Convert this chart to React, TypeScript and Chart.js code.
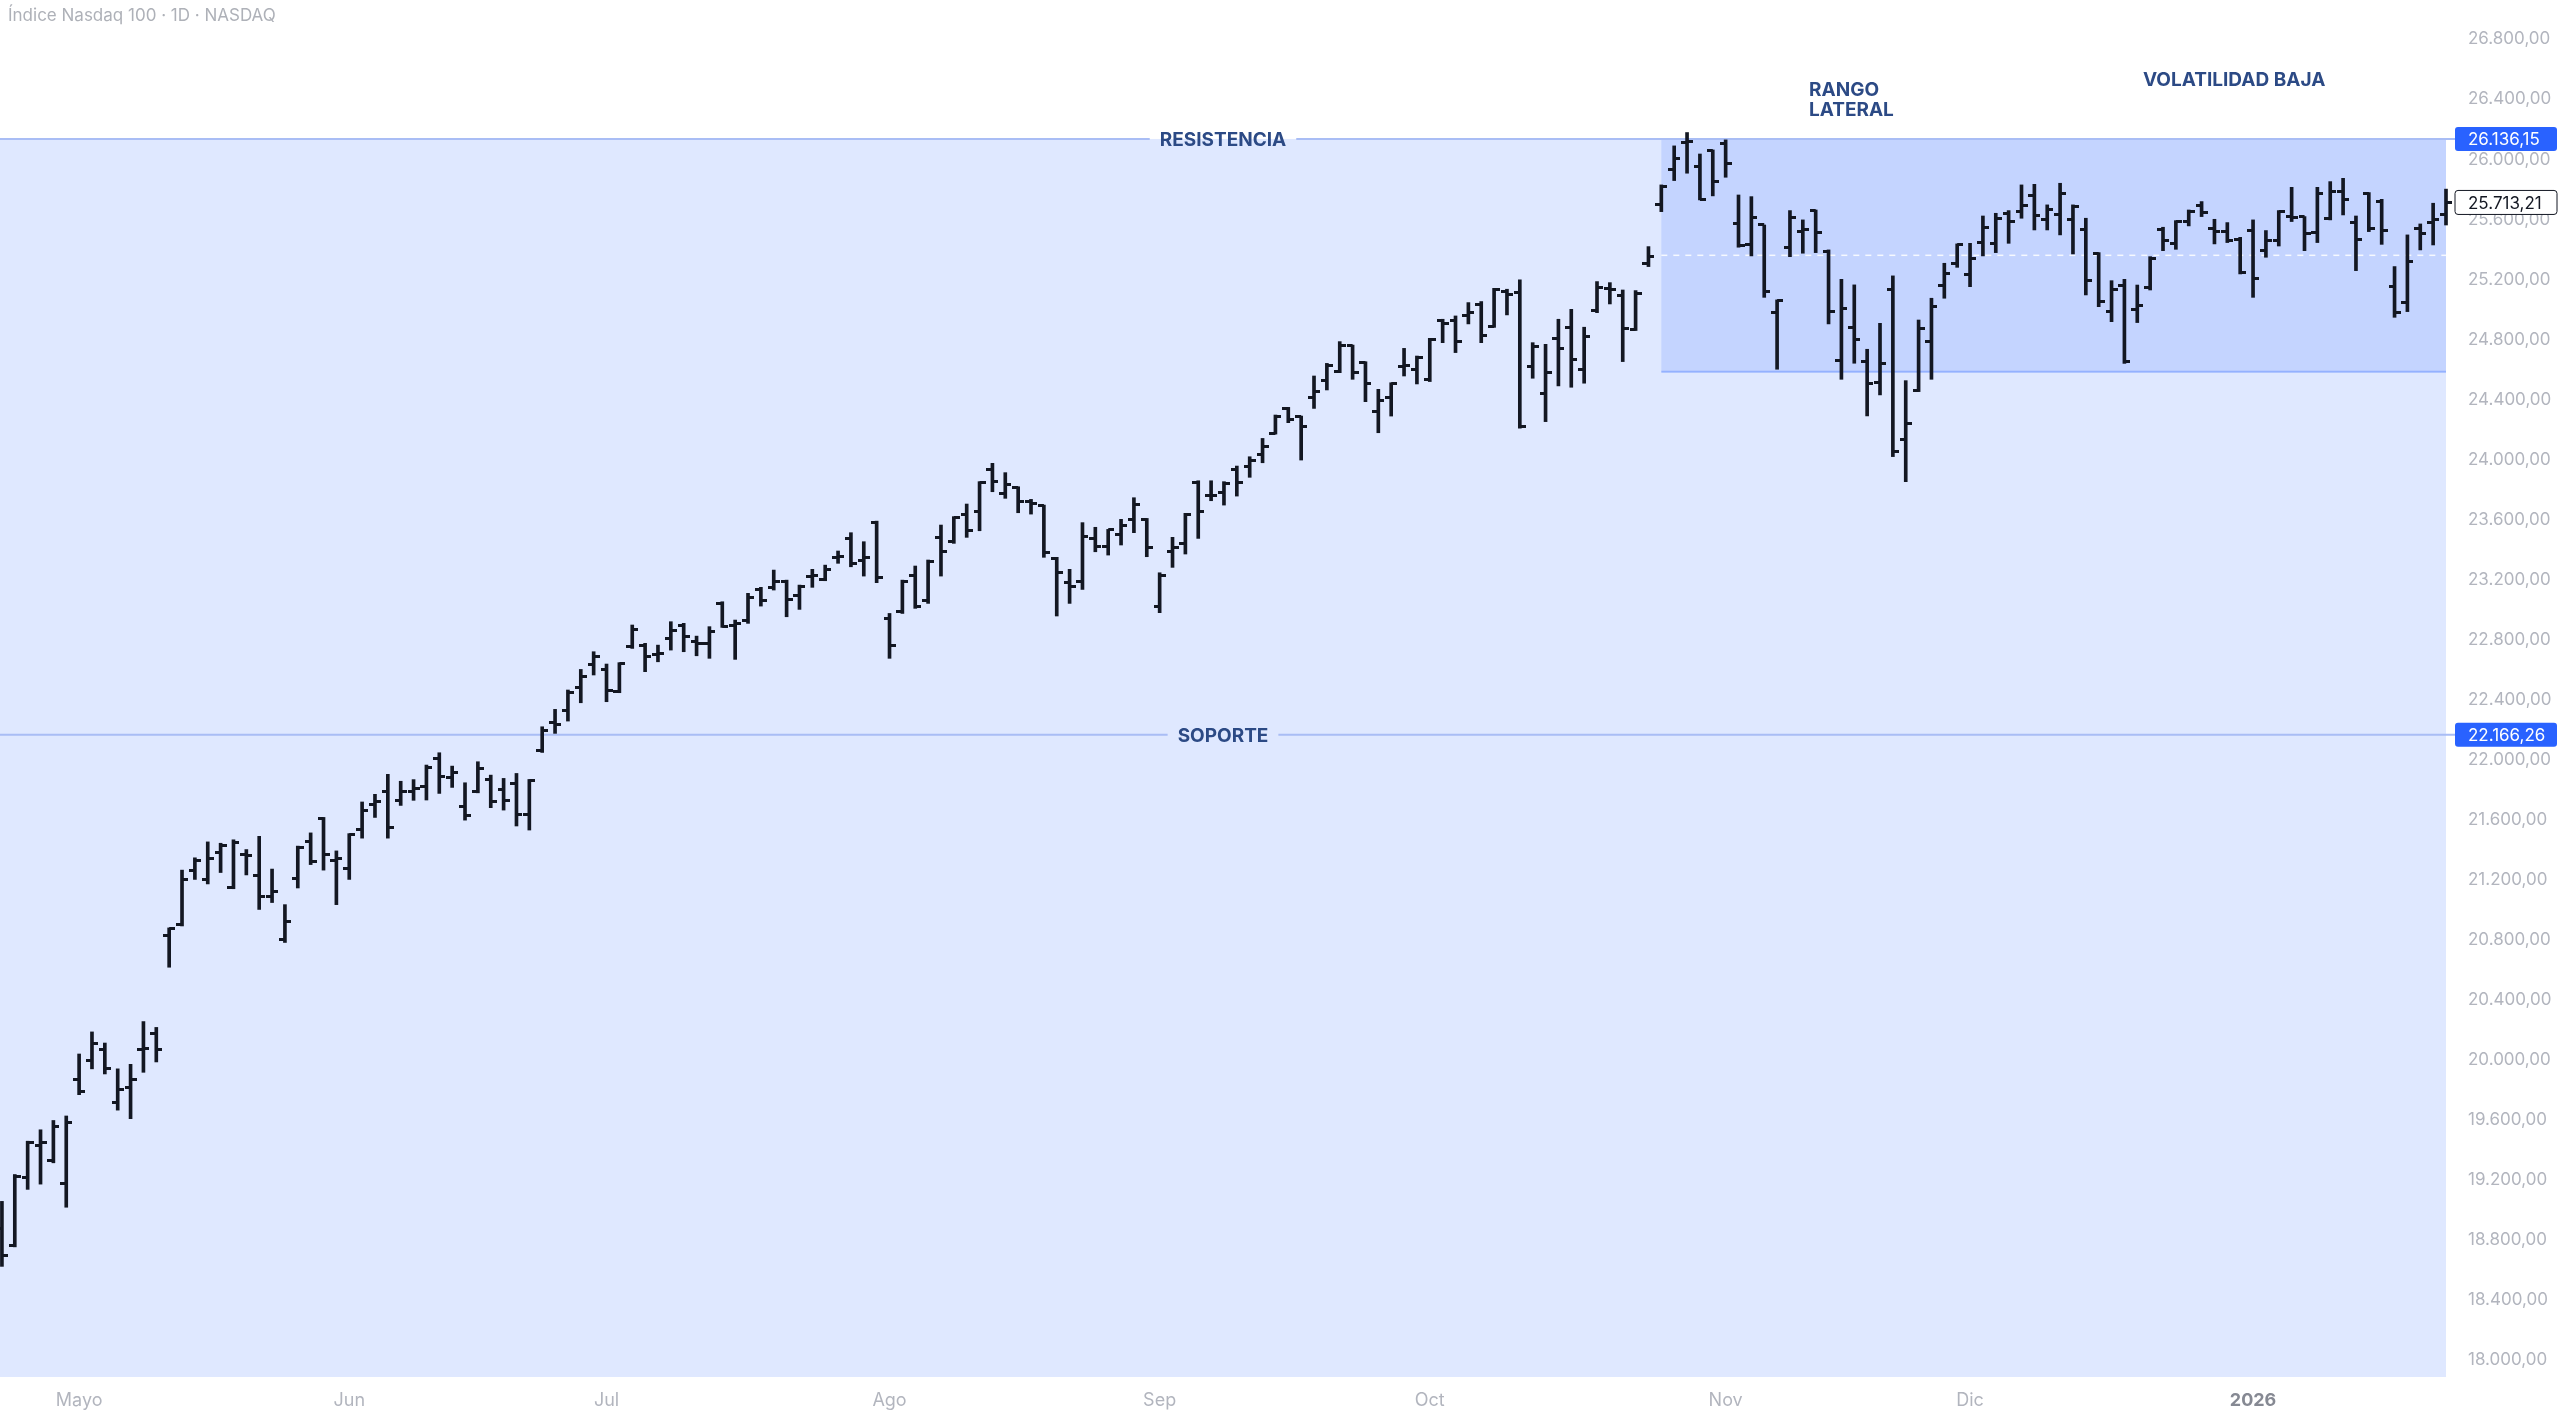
import React, { useEffect, useRef } from 'react';
import { Chart, registerables } from 'chart.js';

Chart.register(...registerables);

// ---------- DATA ----------
const monthDays: [string, number[]][] = [
  ['2025-04', [23, 24, 25, 28, 29, 30]],
  ['2025-05', [1, 2, 5, 6, 7, 8, 9, 12, 13, 14, 15, 16, 19, 20, 21, 22, 23, 27, 28, 29, 30]],
  ['2025-06', [2, 3, 4, 5, 6, 9, 10, 11, 12, 13, 16, 17, 18, 20, 23, 24, 25, 26, 27, 30]],
  ['2025-07', [1, 2, 3, 7, 8, 9, 10, 11, 14, 15, 16, 17, 18, 21, 22, 23, 24, 25, 28, 29, 30, 31]],
  ['2025-08', [1, 4, 5, 6, 7, 8, 11, 12, 13, 14, 15, 18, 19, 20, 21, 22, 25, 26, 27, 28, 29]],
  ['2025-09', [2, 3, 4, 5, 8, 9, 10, 11, 12, 15, 16, 17, 18, 19, 22, 23, 24, 25, 26, 29, 30]],
  ['2025-10', [1, 2, 3, 6, 7, 8, 9, 10, 13, 14, 15, 16, 17, 20, 21, 22, 23, 24, 27, 28, 29, 30, 31]],
  ['2025-11', [3, 4, 5, 6, 7, 10, 11, 12, 13, 14, 17, 18, 19, 20, 21, 24, 25, 26, 28]],
  ['2025-12', [1, 2, 3, 4, 5, 8, 9, 10, 11, 12, 15, 16, 17, 18, 19, 22, 23, 24, 26, 29, 30, 31]],
  ['2026-01', [2, 5, 6, 7, 8, 9, 12, 13, 14, 15, 16, 20, 21, 22, 23, 26]],
];
const dates: string[] = monthDays.flatMap(([m, ds]) => ds.map((d) => `${m}-${String(d).padStart(2, '0')}`));

const monthNames = ['Ene', 'Feb', 'Mar', 'Abr', 'Mayo', 'Jun', 'Jul', 'Ago', 'Sep', 'Oct', 'Nov', 'Dic'];

const openValues = [
  18880, 18764, 19219, 19430, 19329, 19177, 19872, 19994, 20072, 19719,
  19815, 20070, 20178, 20829, 20905, 21260, 21203, 21380, 21146, 21370,
  21226, 21088, 20806, 21210, 21455, 21609, 21330, 21279, 21536, 21701,
  21788, 21730, 21790, 21821, 22009, 21880, 21687, 21787, 21869, 21803,
  21843, 21638, 22061, 22250, 22331, 22482, 22638, 22602, 22454, 22753,
  22764, 22700, 22809, 22898, 22785, 22775, 23042, 22898, 22931, 23135,
  23150, 23186, 23097, 23220, 23202, 23350, 23475, 23331, 23580, 22942,
  22987, 23231, 23064, 23482, 23453, 23631, 23653, 23931, 23775, 23815,
  23720, 23691, 23342, 23180, 23186, 23475, 23424, 23504, 23602, 23602,
  23024, 23386, 23442, 23846, 23760, 23780, 23931, 23957, 24037, 24175,
  24341, 24286, 24415, 24530, 24586, 24757, 24646, 24319, 24415, 24620,
  24602, 24531, 24930, 24930, 24960, 25030, 24886, 25119, 25113, 24620,
  24442, 24808, 24882, 24597, 24993, 25140, 25090, 24864, 25304, 25697,
  25930, 26110, 25952, 26059, 26103, 25575, 25430, 25563, 24979, 25415,
  25520, 25659, 25386, 24659, 24881, 24653, 24513, 25130, 24135, 24460,
  24786, 25163, 25308, 25230, 25446, 25441, 25640, 25652, 25757, 25597,
  25630, 25597, 25530, 25375, 24986, 25163, 25000, 25148, 25530, 25437,
  25586, 25690, 25540, 25519, 25468, 25526, 25392, 25459, 25620, 25619,
  25512, 25608, 25785, 25579, 25774, 25719, 25152, 25046, 25541, 25580,
  25634,
];

const highValues = [
  19058, 19237, 19459, 19535, 19597, 19627, 20040, 20187, 20113, 19941,
  19971, 20256, 20217, 20880, 21265, 21347, 21453, 21444, 21467, 21402,
  21490, 21272, 21035, 21425, 21513, 21616, 21393, 21508, 21719, 21770,
  21903, 21857, 21868, 21965, 22047, 21958, 21847, 21987, 21898, 21876,
  21909, 21869, 22220, 22336, 22465, 22602, 22720, 22638, 22647, 22898,
  22776, 22764, 22920, 22909, 22824, 22887, 23053, 22931, 23109, 23149,
  23264, 23197, 23164, 23269, 23297, 23391, 23513, 23453, 23590, 22975,
  23197, 23291, 23331, 23564, 23620, 23704, 23853, 23975, 23913, 23819,
  23735, 23697, 23349, 23269, 23580, 23549, 23535, 23602, 23746, 23608,
  23246, 23482, 23642, 23859, 23859, 23853, 23957, 24019, 24141, 24297,
  24348, 24290, 24557, 24641, 24786, 24763, 24652, 24468, 24512, 24741,
  24690, 24808, 24935, 24957, 25046, 25053, 25141, 25135, 25197, 24779,
  24768, 24935, 25001, 24882, 25186, 25179, 25130, 25126, 25419, 25830,
  26090, 26179, 26036, 26063, 26130, 25763, 25752, 25563, 25064, 25659,
  25597, 25663, 25397, 25201, 25164, 24735, 24908, 25224, 24526, 24930,
  25075, 25308, 25437, 25441, 25623, 25641, 25659, 25830, 25834, 25697,
  25841, 25697, 25608, 25379, 25192, 25201, 25163, 25352, 25548, 25592,
  25663, 25719, 25601, 25579, 25481, 25597, 25526, 25659, 25814, 25619,
  25814, 25852, 25874, 25623, 25779, 25734, 25286, 25497, 25570, 25708,
  25802,
];

const lowValues = [
  18625, 18755, 19138, 19173, 19315, 19019, 19769, 19941, 19907, 19666,
  19609, 19918, 19987, 20618, 20893, 21203, 21173, 21249, 21141, 21233,
  21003, 21049, 20783, 21146, 21302, 21265, 21035, 21203, 21478, 21616,
  21478, 21696, 21730, 21732, 21776, 21816, 21598, 21780, 21681, 21665,
  21559, 21532, 22049, 22176, 22258, 22380, 22565, 22387, 22447, 22742,
  22587, 22653, 22731, 22720, 22693, 22676, 22882, 22669, 22909, 23024,
  23131, 22953, 23002, 23149, 23193, 23309, 23286, 23224, 23180, 22676,
  22975, 23009, 23042, 23224, 23442, 23482, 23526, 23786, 23742, 23646,
  23637, 23349, 22958, 23042, 23135, 23386, 23364, 23431, 23513, 23353,
  22980, 23282, 23371, 23475, 23726, 23697, 23757, 23882, 23979, 24170,
  24246, 23997, 24341, 24464, 24579, 24535, 24386, 24179, 24290, 24557,
  24504, 24520, 24779, 24713, 24904, 24779, 24881, 24964, 24209, 24542,
  24253, 24491, 24482, 24509, 24979, 25037, 24653, 24860, 25286, 25652,
  25859, 25908, 25730, 25757, 25881, 25415, 25357, 25081, 24602, 25352,
  25375, 25379, 24904, 24535, 24642, 24291, 24431, 24020, 23853, 24453,
  24535, 25075, 25281, 25152, 25357, 25379, 25441, 25608, 25530, 25530,
  25497, 25370, 25097, 25019, 24919, 24641, 24913, 25130, 25392, 25401,
  25557, 25619, 25437, 25446, 25237, 25081, 25348, 25423, 25586, 25392,
  25446, 25597, 25630, 25259, 25519, 25434, 24948, 24986, 25397, 25430,
  25563,
];

const closeValues = [
  18700, 19223, 19452, 19450, 19558, 19586, 19788, 20109, 19941, 19804,
  19872, 20079, 20072, 20875, 21203, 21329, 21341, 21432, 21448, 21363,
  21088, 21123, 20921, 21416, 21325, 21370, 21341, 21501, 21662, 21724,
  21547, 21788, 21810, 21950, 21887, 21913, 21632, 21943, 21721, 21732,
  21638, 21861, 22198, 22237, 22447, 22553, 22687, 22465, 22642, 22869,
  22691, 22705, 22864, 22820, 22775, 22853, 22891, 22909, 23082, 23064,
  23190, 23069, 23157, 23230, 23269, 23353, 23309, 23348, 23213, 22764,
  23186, 23020, 23320, 23386, 23615, 23526, 23846, 23853, 23837, 23720,
  23710, 23380, 23246, 23153, 23491, 23424, 23531, 23564, 23704, 23415,
  23231, 23415, 23631, 23653, 23760, 23840, 23846, 23993, 24090, 24290,
  24268, 24219, 24452, 24630, 24757, 24579, 24508, 24397, 24508, 24630,
  24682, 24802, 24904, 24786, 24980, 24830, 25135, 25100, 24220, 24753,
  24580, 24742, 24664, 24819, 25148, 25130, 24875, 25104, 25352, 25819,
  26008, 26120, 25734, 25852, 25970, 25424, 25615, 25119, 25059, 25615,
  25530, 25512, 24986, 25008, 24797, 24504, 24637, 24053, 24242, 24875,
  25019, 25237, 25430, 25341, 25548, 25608, 25586, 25690, 25623, 25668,
  25770, 25685, 25192, 25052, 25130, 24653, 25024, 25341, 25459, 25586,
  25652, 25645, 25520, 25463, 25246, 25208, 25463, 25652, 25610, 25508,
  25774, 25785, 25734, 25468, 25541, 25526, 24979, 25319, 25508, 25600,
  25713.21,
];

const yTickValues = [
  18000, 18400, 18800, 19200, 19600, 20000, 20400, 20800, 21200, 21600, 22000, 22400,
  22800, 23200, 23600, 24000, 24400, 24800, 25200, 25600, 26000, 26400, 26800,
];

const RESISTANCE = 26136.15;
const SUPPORT = 22166.26;
const RANGE_BOTTOM = 24586;
const RANGE_START_DATE = '2025-10-27';

const levelLines: { value: number; name: string }[] = [
  { value: RESISTANCE, name: 'RESISTENCIA' },
  { value: SUPPORT, name: 'SOPORTE' },
];

const TITLE = 'Índice Nasdaq 100 · 1D · NASDAQ';
const RANGE_LABEL = ['RANGO', 'LATERAL'];
const VOL_LABEL = 'VOLATILIDAD BAJA';

// ---------- HELPERS ----------
const fmt = (v: number) => {
  const [i, d] = v.toFixed(2).split('.');
  return i.replace(/\B(?=(\d{3})+(?!\d))/g, '.') + ',' + d;
};

const monthStarts: { index: number; label: string }[] = [];
dates.forEach((d, i) => {
  if (i === 0) return;
  const prev = dates[i - 1];
  if (d.slice(0, 7) !== prev.slice(0, 7)) {
    const mo = parseInt(d.slice(5, 7), 10);
    monthStarts.push({ index: i, label: mo === 1 ? d.slice(0, 4) : monthNames[mo - 1] });
  }
});

const FONT = "Inter, 'Noto Sans', 'DejaVu Sans', sans-serif";
const TEXT_BLUE = '#2c4a85';

function makeTick(side: 'left' | 'right') {
  const c = document.createElement('canvas');
  c.width = 12;
  c.height = 3;
  const g = c.getContext('2d')!;
  g.fillStyle = '#131722';
  if (side === 'left') g.fillRect(0, 0, 6, 3);
  else g.fillRect(6, 0, 6, 3);
  return c;
}

const zeroPadding = (scale: any) => {
  scale.paddingTop = 0;
  scale.paddingBottom = 0;
  scale.paddingLeft = 0;
  scale.paddingRight = 0;
};

const backgroundPlugin = {
  id: 'tvBackground',
  beforeDatasetsDraw(chart: any) {
    const { ctx, chartArea: a, scales } = chart;
    const x = scales.x;
    const y = scales.y;
    const yR = y.getPixelForValue(RESISTANCE);
    const yB = y.getPixelForValue(RANGE_BOTTOM);
    const xBox = x.getPixelForValue(dates.indexOf(RANGE_START_DATE));
    ctx.save();
    ctx.fillStyle = 'rgba(41, 98, 255, 0.15)';
    ctx.fillRect(a.left, yR, a.right - a.left, a.bottom - yR);
    ctx.fillStyle = 'rgba(41, 98, 255, 0.15)';
    ctx.fillRect(xBox, yR, a.right - xBox, yB - yR);
    ctx.strokeStyle = 'rgba(41, 98, 255, 0.35)';
    ctx.lineWidth = 2;
    ctx.beginPath();
    ctx.moveTo(xBox, yB);
    ctx.lineTo(a.right, yB);
    ctx.stroke();
    const yM = y.getPixelForValue((RESISTANCE + RANGE_BOTTOM) / 2);
    ctx.setLineDash([6, 6]);
    ctx.strokeStyle = 'rgba(255, 255, 255, 0.85)';
    ctx.lineWidth = 1.5;
    ctx.beginPath();
    ctx.moveTo(xBox, yM);
    ctx.lineTo(a.right, yM);
    ctx.stroke();
    ctx.setLineDash([]);

    ctx.font = `bold 19px ${FONT}`;
    ctx.textAlign = 'center';
    ctx.textBaseline = 'middle';
    const cx = (a.left + a.right) / 2;
    levelLines.forEach((l) => {
      const py = y.getPixelForValue(l.value);
      const w = ctx.measureText(l.name).width;
      const gap = w / 2 + 10;
      ctx.strokeStyle = '#a9bdf5';
      ctx.lineWidth = 2;
      ctx.beginPath();
      ctx.moveTo(a.left, py);
      ctx.lineTo(cx - gap, py);
      ctx.moveTo(cx + gap, py);
      ctx.lineTo(a.right + 9, py);
      ctx.stroke();
      ctx.fillStyle = TEXT_BLUE;
      ctx.fillText(l.name, cx, py + 1);
    });

    ctx.textAlign = 'left';
    ctx.fillStyle = TEXT_BLUE;
    const rx = x.getPixelForValue(140.48);
    const ry = y.getPixelForValue(26459);
    RANGE_LABEL.forEach((t, i) => ctx.fillText(t, rx, ry + i * 20));
    ctx.fillText(VOL_LABEL, x.getPixelForValue(166.44), y.getPixelForValue(26529));
    ctx.restore();
  },
  afterDraw(chart: any) {
    const { ctx, chartArea: a, scales } = chart;
    const y = scales.y;
    ctx.save();
    ctx.font = `17px ${FONT}`;
    ctx.fillStyle = '#aeb1b8';
    ctx.textAlign = 'left';
    ctx.textBaseline = 'middle';
    ctx.fillText(TITLE, 8, 16);

    const tag = (value: number, bg: string, fg: string, border?: string) => {
      const py = y.getPixelForValue(value);
      const bx = a.right + 9;
      const bw = 102;
      const bh = 24;
      ctx.beginPath();
      ctx.roundRect(bx, py - bh / 2, bw, bh, 3);
      ctx.fillStyle = bg;
      ctx.fill();
      if (border) {
        ctx.strokeStyle = border;
        ctx.lineWidth = 1;
        ctx.stroke();
      }
      ctx.fillStyle = fg;
      ctx.font = `17px ${FONT}`;
      ctx.fillText(fmt(value), a.right + 22, py + 1);
    };
    tag(RESISTANCE, '#2962ff', '#ffffff');
    tag(SUPPORT, '#2962ff', '#ffffff');
    tag(closeValues[closeValues.length - 1], '#ffffff', '#131722', '#131722');
    ctx.restore();
  },
};

export default function App() {
  const ref = useRef<HTMLCanvasElement | null>(null);
  useEffect(() => {
    if (!ref.current) return;
    const openTick = makeTick('left');
    const closeTick = makeTick('right');
    const idx = dates.map((_, i) => i);
    const chart = new Chart(ref.current, {
      type: 'bar',
      data: {
        datasets: [
          {
            type: 'bar',
            label: 'HL',
            data: idx.map((i) => ({ x: i, y: [lowValues[i], highValues[i]] })) as any,
            backgroundColor: '#131722',
            borderWidth: 0,
            barThickness: 3,
            clip: false as any,
          },
          {
            type: 'line',
            label: 'Open',
            data: idx.map((i) => ({ x: i, y: openValues[i] })),
            showLine: false,
            pointStyle: openTick as any,
            pointRadius: 3,
            clip: false as any,
          },
          {
            type: 'line',
            label: 'Close',
            data: idx.map((i) => ({ x: i, y: closeValues[i] })),
            showLine: false,
            pointStyle: closeTick as any,
            pointRadius: 3,
            clip: false as any,
          },
        ] as any,
      },
      options: {
        animation: false,
        responsive: false,
        devicePixelRatio: 1,
        events: [],
        layout: { padding: 0, autoPadding: false },
        plugins: { legend: { display: false }, tooltip: { enabled: false }, title: { display: false } },
        scales: {
          x: {
            type: 'linear',
            min: -0.15,
            max: 190.0,
            offset: false,
            grid: { display: false, drawTicks: false },
            border: { display: false },
            afterBuildTicks: (scale: any) => {
              scale.ticks = monthStarts.map((m) => ({ value: m.index }));
            },
            afterFit: (scale: any) => {
              scale.height = 35;
              zeroPadding(scale);
            },
            ticks: {
              autoSkip: false,
              maxRotation: 0,
              padding: 13,
              callback: (v: any) => {
                const m = monthStarts.find((s) => s.index === v);
                return m ? m.label : '';
              },
              color: (c: any) => {
                const m = monthStarts.find((s) => s.index === c.tick?.value);
                return m && /^\d{4}$/.test(m.label) ? '#868993' : '#b2b5be';
              },
              font: (c: any) => {
                const m = monthStarts.find((s) => s.index === c.tick?.value);
                return { family: FONT, size: 18, weight: m && /^\d{4}$/.test(m.label) ? 'bold' : 'normal' } as any;
              },
            },
          },
          y: {
            type: 'linear',
            position: 'right',
            min: 17888,
            max: 27062,
            grid: { display: false, drawTicks: false },
            border: { display: false },
            afterBuildTicks: (scale: any) => {
              scale.ticks = yTickValues.map((v) => ({ value: v }));
            },
            afterFit: (scale: any) => {
              scale.width = 114;
              zeroPadding(scale);
            },
            ticks: {
              padding: 22,
              color: '#b2b5be',
              font: { family: FONT, size: 17 },
              callback: (v: any) => fmt(Number(v)),
            },
          },
        },
      } as any,
      plugins: [backgroundPlugin],
    });
    return () => chart.destroy();
  }, []);

  return (
    <div style={{ position: 'fixed', left: 0, top: 0, width: 2560, height: 1412, background: '#ffffff' }}>
      <canvas ref={ref} width={2560} height={1412} style={{ display: 'block', width: 2560, height: 1412 }} />
    </div>
  );
}
